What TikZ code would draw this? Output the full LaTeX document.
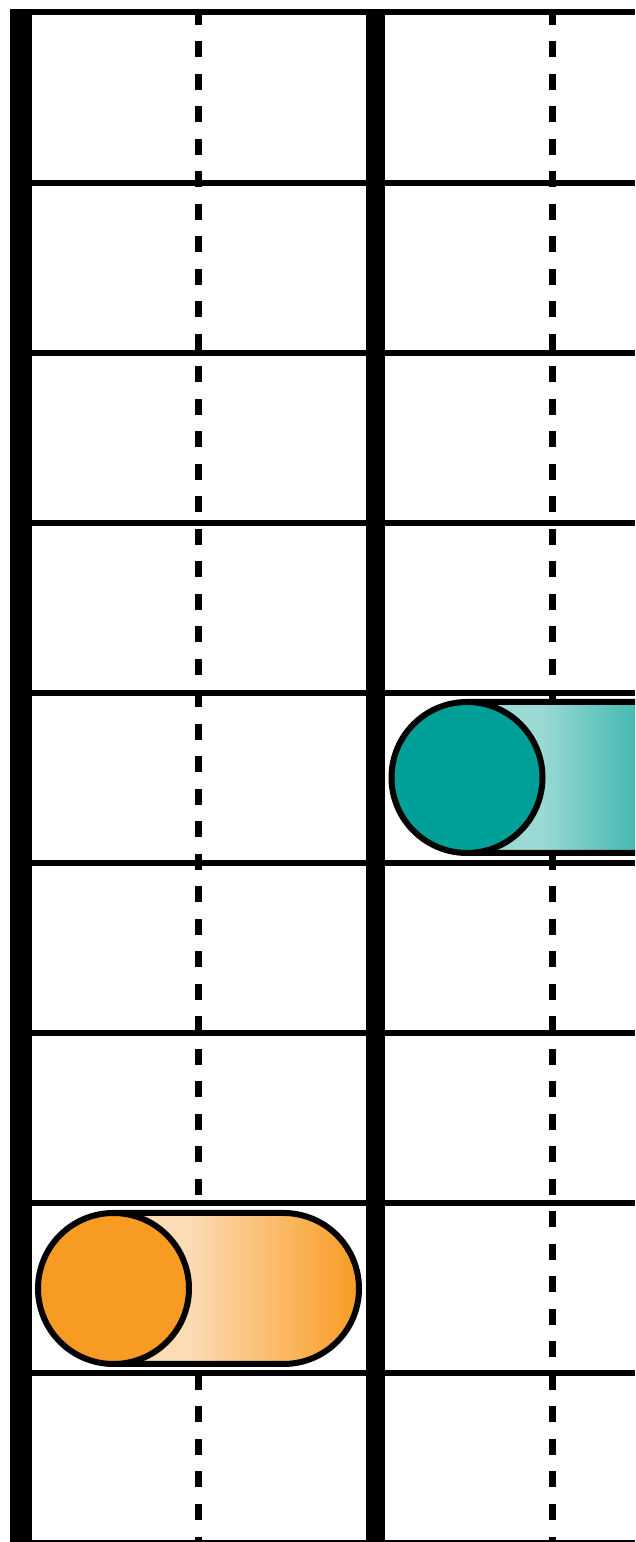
\documentclass[tikz,border=0pt]{standalone}
\begin{document}
\begin{tikzpicture}[x=1pt,y=1pt,
  gridline/.style={line width=6pt},
  guide/.style={line width=7pt, dash pattern=on 16pt off 16.5pt},
  outline/.style={line width=6pt, line join=round}]
\definecolor{orangeD}{HTML}{F89B23}
\definecolor{orangeL}{HTML}{FCDCB4}
\definecolor{tealD}{HTML}{009F97}
\definecolor{tealL}{HTML}{9AD9D4}
\useasboundingbox (0,0) rectangle (635,1542);
\clip (0,0) rectangle (635,1542);
\fill[white] (0,0) rectangle (635,1542);
% horizontal grid lines
\foreach \k in {0,...,9}
  \draw[gridline] (10,{1529.5-170.1*\k}) -- (635,{1529.5-170.1*\k});
% dashed guides
\draw[guide] (198.5,1533) -- (198.5,-5);
\draw[guide] (552.5,1533) -- (552.5,-5);
% thick rails
\fill (10,1533) rectangle (32,-5);
\fill (366,1533) rectangle (385,-5);
% orange capsule
\begin{scope}
  \clip (113.5,329) -- (283.5,329) arc[start angle=90,end angle=-90,radius=75.5] -- (113.5,178) -- cycle;
  \fill[orangeL] (113.5,170) rectangle (189,340);
  \shade[left color=orangeL,right color=orangeD] (189,170) rectangle (359,340);
\end{scope}
\draw[outline] (113.5,329) -- (283.5,329) arc[start angle=90,end angle=-90,radius=75.5] -- (113.5,178) -- cycle;
\draw[outline, fill=orangeD] (113.5,253.5) circle[radius=75.5];
% teal capsule
\begin{scope}
  \clip (467,840) -- (637,840) arc[start angle=90,end angle=-90,radius=75.5] -- (467,689) -- cycle;
  \fill[tealL] (467,680) rectangle (542.5,850);
  \shade[left color=tealL,right color=tealD] (542.5,680) rectangle (712.5,850);
\end{scope}
\draw[outline] (467,840) -- (637,840) arc[start angle=90,end angle=-90,radius=75.5] -- (467,689) -- cycle;
\draw[outline, fill=tealD] (467,764.5) circle[radius=75.5];
\end{tikzpicture}
\end{document}
